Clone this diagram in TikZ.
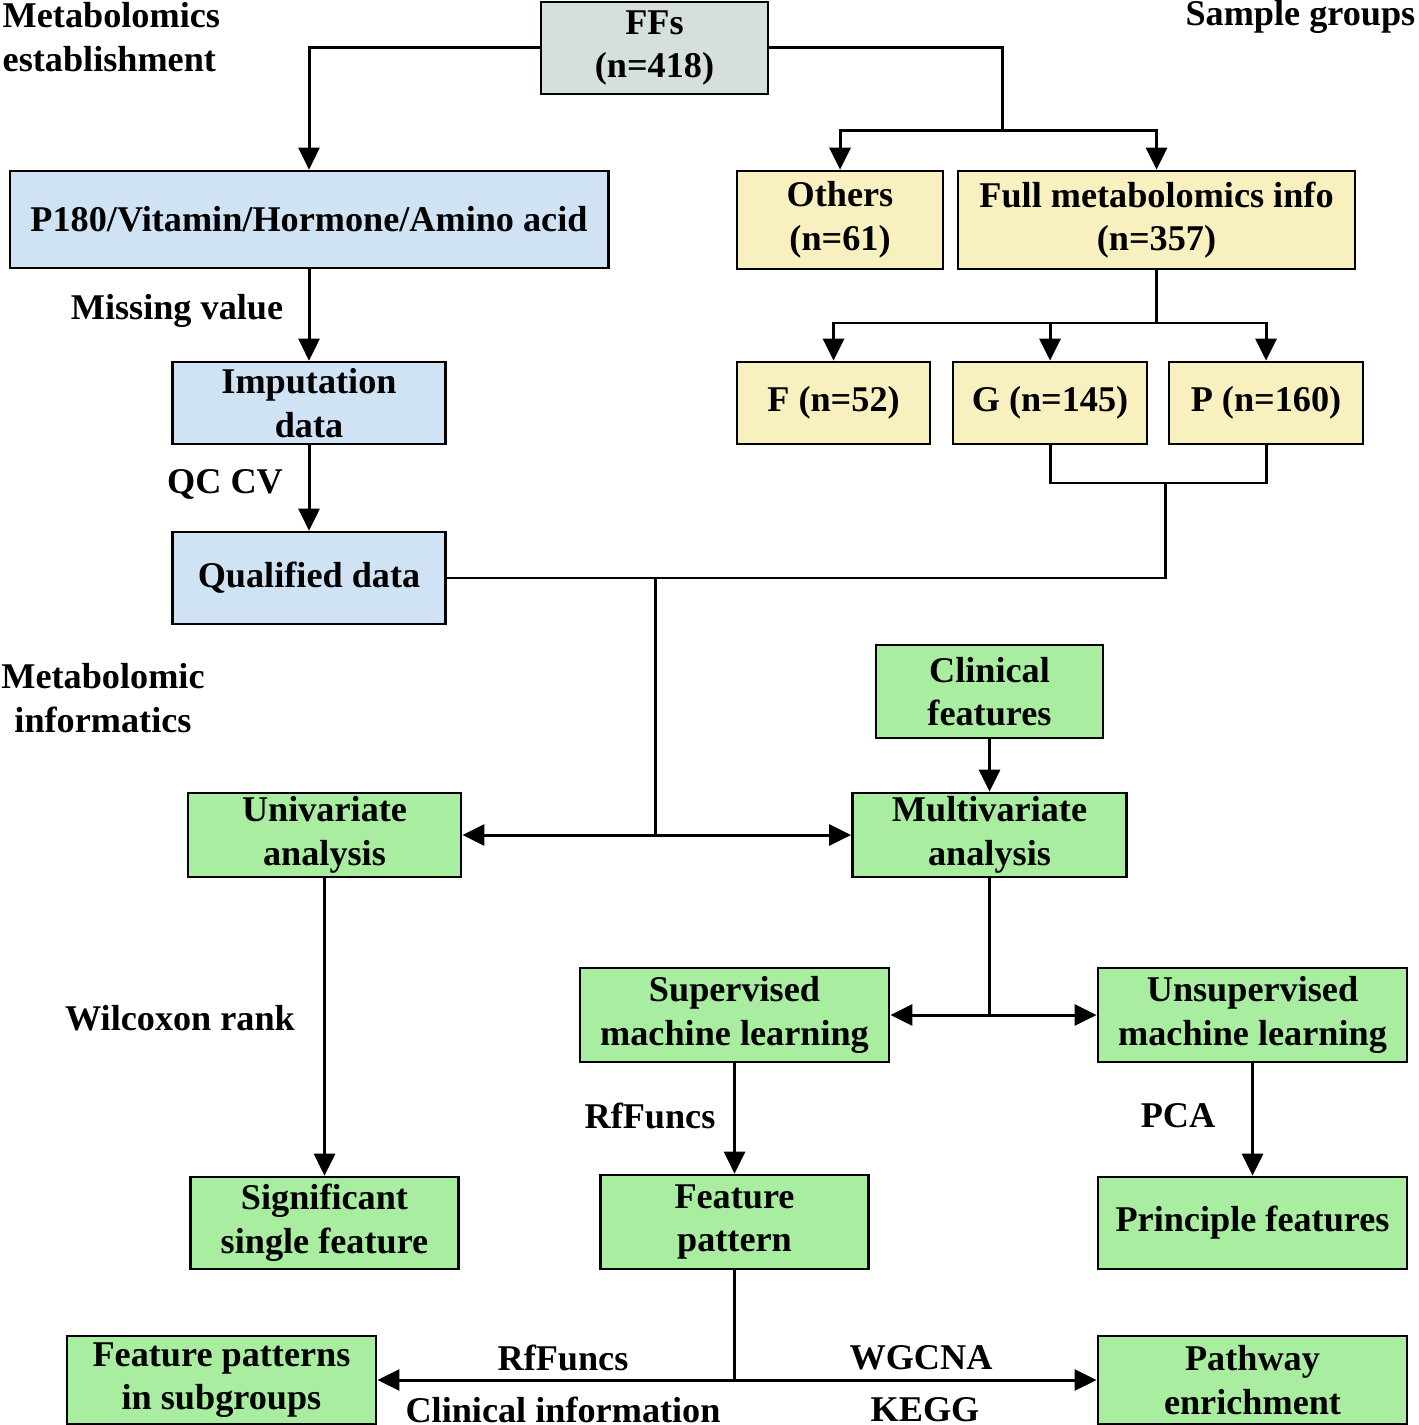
\documentclass[tikz,border=0pt]{standalone}
\usepackage{fontspec}
\setmainfont{Liberation Serif}
\usetikzlibrary{arrows.meta}
\definecolor{cgray}{HTML}{D5DFDD}
\definecolor{cblue}{HTML}{CFE3F5}
\definecolor{cyel}{HTML}{F9F0C0}
\definecolor{cgreen}{HTML}{A9EEA0}
\begin{document}
\begin{tikzpicture}[x=0.01cm,y=-0.01cm,
  box/.style={draw=black,line width=0.75pt,inner sep=0pt,align=center,font=\fontsize{10.3pt}{12.4pt}\selectfont\bfseries},
  lbl/.style={inner sep=0pt,align=center,font=\fontsize{10.3pt}{12.4pt}\selectfont\bfseries},
  conn/.style={line width=0.85pt},
  arr/.style={conn,-{Triangle[length=0.22cm,width=0.21cm]}}]
\useasboundingbox (0,0) rectangle (1418,1425);
% boxes
\node[box,fill=cgray,minimum width=2.27cm,minimum height=0.92cm] (ffs) at (654.5,48) {FFs\\(n=418)};
\node[box,fill=cblue,minimum width=5.98cm,minimum height=0.97cm] (p180) at (309,219.5) {P180/Vitamin/Hormone/Amino acid};
\node[box,fill=cyel,minimum width=2.06cm,minimum height=0.98cm] (oth) at (840,220) {Others\\(n=61)};
\node[box,fill=cyel,minimum width=3.97cm,minimum height=0.98cm] (full) at (1156.5,220) {Full metabolomics info\\(n=357)};
\node[box,fill=cblue,minimum width=2.73cm,minimum height=0.82cm] (imp) at (309,403) {Imputation\\data};
\node[box,fill=cyel,minimum width=1.93cm,minimum height=0.82cm] (f) at (833.5,403) {F (n=52)};
\node[box,fill=cyel,minimum width=1.94cm,minimum height=0.82cm] (g) at (1050,403) {G (n=145)};
\node[box,fill=cyel,minimum width=1.94cm,minimum height=0.82cm] (p) at (1266,403) {P (n=160)};
\node[box,fill=cblue,minimum width=2.73cm,minimum height=0.92cm] (qual) at (309,578) {Qualified data};
\node[box,fill=cgreen,minimum width=2.27cm,minimum height=0.93cm] (clin) at (989.5,691.5) {Clinical\\features};
\node[box,fill=cgreen,minimum width=2.73cm,minimum height=0.84cm] (uni) at (324.5,835) {Univariate\\analysis};
\node[box,fill=cgreen,minimum width=2.74cm,minimum height=0.84cm] (multi) at (989.5,835) {Multivariate\\analysis};
\node[box,fill=cgreen,minimum width=3.09cm,minimum height=0.94cm] (sup) at (734.5,1015) {Supervised\\machine learning};
\node[box,fill=cgreen,minimum width=3.09cm,minimum height=0.94cm] (unsup) at (1252.5,1015) {Unsupervised\\machine learning};
\node[box,fill=cgreen,minimum width=2.68cm,minimum height=0.92cm] (sig) at (324.5,1223) {Significant\\single feature};
\node[box,fill=cgreen,minimum width=2.68cm,minimum height=0.94cm] (fp) at (734.5,1222) {Feature\\pattern};
\node[box,fill=cgreen,minimum width=3.09cm,minimum height=0.92cm] (prin) at (1252.5,1223) {Principle features};
\node[box,fill=cgreen,minimum width=3.09cm,minimum height=0.88cm] (fps) at (221.5,1380) {Feature patterns\\in subgroups};
\node[box,fill=cgreen,minimum width=3.09cm,minimum height=0.88cm] (path) at (1252.5,1380) {Pathway\\enrichment};
% free labels
\node[lbl,anchor=west] (t1) at (2,15) {Metabolomics};
\node[lbl,anchor=west] (t2) at (2,59) {establishment};
\node[lbl,anchor=east] (t3) at (1416,17) {Sample groups};
\node[lbl] (t4) at (103,676) {Metabolomic};
\node[lbl] (t5) at (103,720) {informatics};
\node[lbl] (l1) at (177,311) {Missing value};
\node[lbl] (l2) at (225,484) {QC CV};
\node[lbl] (l3) at (180,1018) {Wilcoxon rank};
\node[lbl] (l4) at (650,1116) {RfFuncs};
\node[lbl] (l5) at (1178,1116) {PCA};
\node[lbl] (l6) at (563,1358) {RfFuncs};
\node[lbl] (l7) at (563,1410) {Clinical information};
\node[lbl] (l8) at (921,1358) {WGCNA};
\node[lbl] (l9) at (925,1410) {KEGG};
% coordinates
\coordinate (j1) at (1002,131);
\coordinate (j2) at (1156.5,323);
\coordinate (j3) at (1165,483);
\coordinate (j4) at (655,578);
\coordinate (j5) at (655,835);
\coordinate (j6) at (989.5,1015);
\coordinate (j7) at (734.5,1380);
% connectors
\draw[arr] (ffs.west) -| (p180.north);
\draw[conn] (ffs.east) -| (j1);
\draw[arr] (j1) -| (oth.north);
\draw[arr] (j1) -| (full.north);
\draw[arr] (p180.south) -- (imp.north);
\draw[arr] (imp.south) -- (qual.north);
\draw[conn] (full.south) -- (j2);
\draw[arr] (j2) -| (f.north);
\draw[arr] (j2) -| (g.north);
\draw[arr] (j2) -| (p.north);
\draw[conn] (g.south) |- (j3);
\draw[conn] (p.south) |- (j3);
\draw[conn] (j3) |- (qual.east);
\draw[conn] (j4) -- (j5);
\draw[arr] (j5) -- (uni.east);
\draw[arr] (j5) -- (multi.west);
\draw[arr] (clin.south) -- (multi.north);
\draw[arr] (uni.south) -- (sig.north);
\draw[conn] (multi.south) -- (j6);
\draw[arr] (j6) -- (sup.east);
\draw[arr] (j6) -- (unsup.west);
\draw[arr] (sup.south) -- (fp.north);
\draw[arr] (unsup.south) -- (prin.north);
\draw[conn] (fp.south) -- (j7);
\draw[arr] (j7) -- (fps.east);
\draw[arr] (j7) -- (path.west);
\end{tikzpicture}
\end{document}
